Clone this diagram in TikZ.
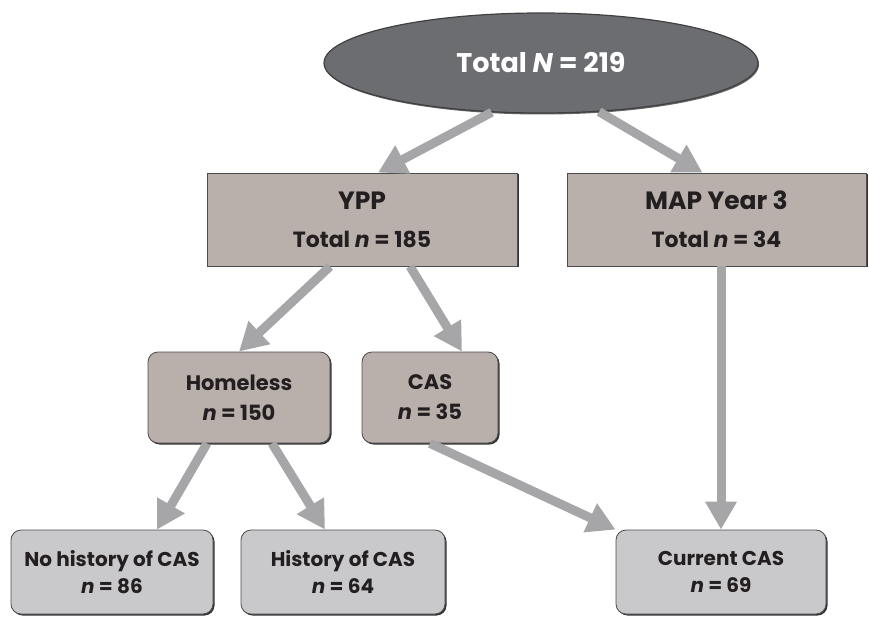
\documentclass[tikz,border=0pt]{standalone}
\usepackage{fontspec}
\setmainfont{Poppins}
\usepackage{tikz}
\usetikzlibrary{positioning,arrows.meta,shadows,shapes.geometric}
\usepackage{xcolor}

\definecolor{ovalgray}{HTML}{6C6D71}
\definecolor{taupe}{HTML}{B9AFAB}
\definecolor{lightbox}{HTML}{C9C9CB}
\definecolor{arrowgray}{HTML}{A6A6A8}
\definecolor{inkdark}{HTML}{231F20}

\begin{document}
\begin{tikzpicture}[
  x=1pt, y=-1pt,
  oval/.style  = {ellipse, draw=black!75, line width=1.2pt, fill=ovalgray,
                  text=white, minimum width=434pt, minimum height=100pt,
                  font=\bfseries\fontsize{27}{32}\selectfont,
                  drop shadow={shadow xshift=1pt, shadow yshift=-1.5pt,
                               fill=black, opacity=.6}},
  group/.style = {draw=black!70, line width=.8pt, fill=taupe, text=inkdark,
                  align=center, minimum height=93pt,
                  font=\bfseries\fontsize{22}{34}\selectfont,
                  drop shadow={shadow xshift=1.5pt, shadow yshift=-1.5pt,
                               fill=black, opacity=.8}},
  sub/.style   = {group, rounded corners=10pt, minimum height=91pt,
                  font=\bfseries\fontsize{21}{30}\selectfont},
  leaf/.style  = {sub, fill=lightbox, minimum height=84pt,
                  font=\bfseries\fontsize{20}{27}\selectfont},
  arr/.style   = {-{Triangle[length=28pt, width=30pt]}, line width=9pt,
                  draw=arrowgray},
]
\useasboundingbox (0,0) rectangle (869,617);

% ---------------- top ---------------------------------------------------
\node[oval] (tot) at (541,63) {Total \textit{N} = 219};

% ---------------- study groups ------------------------------------------
\node[group, minimum width=310pt] (ypp) at (362,219.5)
  {{\fontsize{25}{34}\selectfont YPP}\\[4pt] Total \textit{n} = 185};
\node[group, minimum width=299pt] (map) at (716.5,219.5)
  {{\fontsize{25}{34}\selectfont MAP Year 3}\\[4pt] Total \textit{n} = 34};

% ---------------- YPP split ---------------------------------------------
\node[sub, minimum width=182pt] (home) at (239,397.5)
  {Homeless\\ \textit{n} = 150};
\node[sub, minimum width=136pt] (cas) at (430,397.5)
  {CAS\\ \textit{n} = 35};

% ---------------- outcomes ----------------------------------------------
\node[leaf, minimum width=202pt] (nohist) at (112,572)
  {No history of CAS\\ \textit{n} = 86};
\node[leaf, minimum width=204pt] (hist) at (343,572)
  {History of CAS\\ \textit{n} = 64};
\node[leaf, minimum width=210pt] (cur) at (721,572)
  {Current CAS\\ \textit{n} = 69};

% ---------------- edges -------------------------------------------------
\draw[arr] (tot.225) -- ([xshift=16pt]ypp.north);
\draw[arr] (tot.-40) -- ([xshift=-14pt]map.north);
\draw[arr] ([xshift=-32pt]ypp.south) -- (home.north);
\draw[arr] ([xshift=48pt]ypp.south) -- ([xshift=32pt]cas.north);
\draw[arr] (map.south -| cur.north) -- (cur.north);
\draw[arr] (cas.south) -- (cur.north west);
\draw[arr] ([xshift=-32pt]home.south) -- ([xshift=45pt]nohist.north);
\draw[arr] ([xshift=33pt]home.south) -- ([xshift=-18pt]hist.north);

\end{tikzpicture}
\end{document}
